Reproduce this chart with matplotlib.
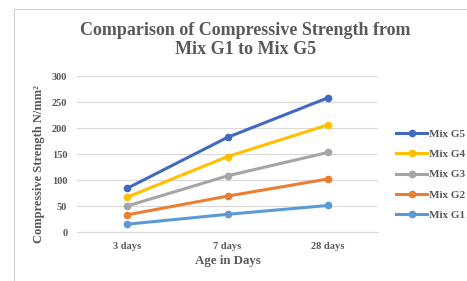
import matplotlib.pyplot as plt
from matplotlib.patches import Rectangle

# data
ages = ['3 days', '7 days', '28 days']
mix_g5 = [84, 182, 258]
mix_g4 = [67, 145, 206]
mix_g3 = [50, 108, 153]
mix_g2 = [33, 69, 102]
mix_g1 = [15, 34, 51]

series = [
    ('Mix G5', mix_g5, '#4169C4'),
    ('Mix G4', mix_g4, '#FFC000'),
    ('Mix G3', mix_g3, '#A5A5A5'),
    ('Mix G2', mix_g2, '#ED7D31'),
    ('Mix G1', mix_g1, '#5B9BD5'),
]

plt.rcParams['font.family'] = ['Liberation Serif', 'DejaVu Serif']
text_col = '#595959'

fig = plt.figure(figsize=(4.67, 2.81), dpi=100)
fig.patch.set_facecolor('white')

# chart frame (partly cut off at right/bottom like the screenshot)
fig.patches.append(Rectangle((14 / 467, -0.1), 1.2, 1 - 9 / 281 + 0.1,
                             transform=fig.transFigure, fill=False,
                             edgecolor='#D0D0D0', linewidth=0.8))

ax = fig.add_axes([77 / 467, 1 - 232 / 281, (378 - 77) / 467, (232 - 76) / 281])

x = range(len(ages))
for name, vals, col in series:
    ax.plot(x, vals, color=col, linewidth=2.2, marker='o', markersize=4.5, label=name)

ax.set_xlim(-0.5, len(ages) - 0.5)
ax.set_ylim(0, 300)
ax.set_yticks(range(0, 301, 50))
ax.set_xticks(list(x))
ax.set_xticklabels(ages)
ax.grid(axis='y', color='#D9D9D9', linewidth=0.8)
ax.set_axisbelow(True)
for s in ['top', 'right', 'left']:
    ax.spines[s].set_visible(False)
ax.spines['bottom'].set_color('#D9D9D9')
ax.tick_params(length=0, labelsize=7.5, labelcolor=text_col, pad=7)
for lab in ax.get_xticklabels() + ax.get_yticklabels():
    lab.set_fontweight('bold')

ax.set_xlabel('Age in Days', fontsize=9.3, fontweight='bold', color=text_col, labelpad=3)
ax.set_ylabel('Compressive Strength N/mm²', fontsize=9, fontweight='bold', color=text_col)
ax.yaxis.set_label_coords(-0.105, 0.436)

fig.text(0.525, 1 - 40 / 281, 'Comparison of Compressive Strength from\nMix G1 to Mix G5',
         ha='center', va='center', fontsize=13, fontweight='bold', color=text_col,
         linespacing=1.18)

ax.legend(loc='upper left', bbox_to_anchor=(396 / 467, 1 - 129 / 281),
          bbox_transform=fig.transFigure, frameon=False,
          prop={'size': 8, 'weight': 'bold'}, labelcolor=text_col,
          handlelength=2.8, handletextpad=0.15, labelspacing=0.95, borderpad=0,
          borderaxespad=0)

fig.savefig('out.png', dpi=100)
